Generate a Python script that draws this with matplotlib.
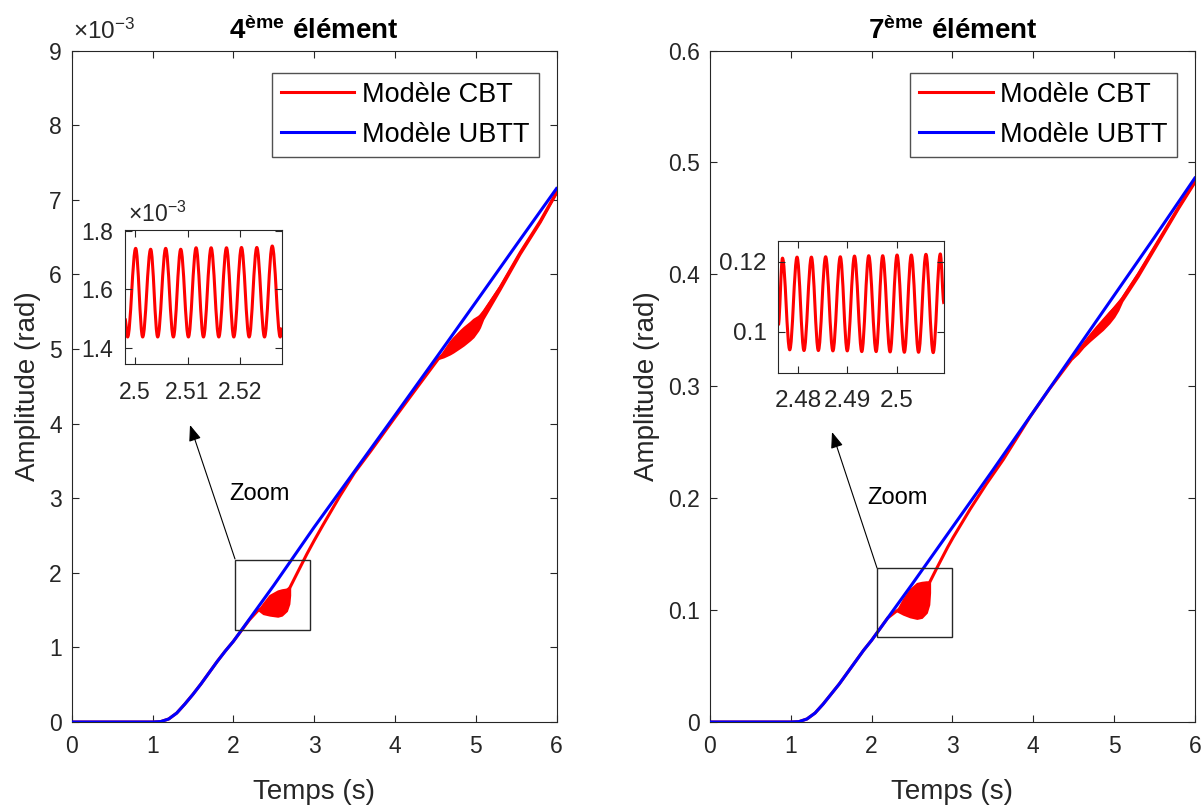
import matplotlib
matplotlib.use("Agg")
import matplotlib.pyplot as plt
from matplotlib.path import Path
from matplotlib.patches import PathPatch, Rectangle, FancyArrowPatch

plt.rcParams['font.family'] = ['Liberation Sans', 'DejaVu Sans']
plt.rcParams['mathtext.fontset'] = 'custom'
plt.rcParams['mathtext.rm'] = 'Liberation Sans'
plt.rcParams['mathtext.bf'] = 'Liberation Sans:bold'
plt.rcParams['mathtext.it'] = 'Liberation Sans:italic'

# ---------------- data ----------------
# time axis of the UBTT model (s)
t_ubtt = [0, 1.0, 1.1, 1.2, 1.3, 1.4, 1.5, 1.6, 1.7, 1.8, 1.9, 2.0,
          2.5, 3.0, 3.5, 4.0, 4.5, 5.0, 5.5, 6.0]
# 4th element, UBTT (x1e-3 rad)
ubtt4 = [0, 0, 0.005, 0.04, 0.12, 0.24, 0.37, 0.51, 0.66, 0.81, 0.95, 1.08,
         1.83, 2.61, 3.36, 4.11, 4.865, 5.625, 6.39, 7.15]
# 7th element, UBTT (rad)
ubtt7 = [0, 0, 0.0003, 0.0027, 0.008, 0.016, 0.025, 0.034, 0.044, 0.054, 0.064, 0.073,
         0.123, 0.174, 0.225, 0.277, 0.329, 0.381, 0.433, 0.486]

# 4th element, CBT mean path (x1e-3 rad)
t_cbt4 = [0, 1.0, 1.1, 1.2, 1.3, 1.4, 1.5, 1.6, 1.7, 1.8, 1.9, 2.0, 2.2, 2.31, 2.5,
          2.70, 2.765, 2.91, 3.0, 3.11, 3.32, 3.5, 3.7, 4.0, 4.3, 4.54, 4.8, 5.09,
          5.3, 5.55, 5.8, 6.0]
cbt4 = [0, 0, 0.005, 0.04, 0.12, 0.24, 0.37, 0.51, 0.66, 0.81, 0.95, 1.08, 1.37, 1.50, 1.58,
        1.80, 1.94, 2.25, 2.43, 2.64, 3.03, 3.34, 3.63, 4.08, 4.52, 4.87, 5.13, 5.47,
        5.82, 6.29, 6.715, 7.10]
# 4th element, CBT oscillation envelopes (x1e-3 rad)
band4a_t = [2.31, 2.37, 2.45, 2.55, 2.60, 2.66, 2.69, 2.70]
band4a_hi = [1.50, 1.59, 1.70, 1.76, 1.775, 1.785, 1.79, 1.80]
band4a_lo = [1.50, 1.45, 1.43, 1.415, 1.43, 1.49, 1.585, 1.70]
band4b_t = [4.54, 4.60, 4.68, 4.72, 4.81, 4.85, 4.93, 4.97, 5.03, 5.05, 5.09, 5.3, 5.55, 5.8, 6.0]
band4b_hi = [4.87, 4.97, 5.10, 5.15, 5.25, 5.29, 5.36, 5.40, 5.44, 5.46, 5.515, 5.85, 6.31, 6.73, 7.11]
band4b_lo = [4.87, 4.89, 4.93, 4.955, 5.02, 5.05, 5.12, 5.16, 5.25, 5.29, 5.40, 5.79, 6.27, 6.70, 7.09]

# 7th element, CBT mean path (rad)
t_cbt7 = [0, 1.0, 1.1, 1.2, 1.3, 1.4, 1.5, 1.6, 1.7, 1.8, 1.9, 2.0, 2.2, 2.31, 2.5,
          2.72, 2.80, 2.85, 2.94, 3.01, 3.22, 3.42, 3.63, 3.96, 4.2, 4.48, 4.8, 5.10,
          5.3, 5.55, 5.8, 6.0]
cbt7 = [0, 0, 0.0003, 0.0027, 0.008, 0.016, 0.025, 0.034, 0.044, 0.054, 0.064, 0.073, 0.093,
        0.0992, 0.108, 0.1250, 0.1365, 0.1435, 0.1560, 0.1650, 0.1902, 0.2126, 0.2345, 0.2725,
        0.2975, 0.3245, 0.352, 0.378, 0.400, 0.430, 0.460, 0.483]
band7a_t = [2.31, 2.39, 2.475, 2.56, 2.62, 2.68, 2.71, 2.72]
band7a_hi = [0.0992, 0.1097, 0.1186, 0.1240, 0.1250, 0.1255, 0.1252, 0.1250]
band7a_lo = [0.0992, 0.0962, 0.0938, 0.0924, 0.0933, 0.0978, 0.105, 0.1157]
band7b_t = [4.48, 4.55, 4.62, 4.70, 4.78, 4.86, 4.94, 5.00, 5.05, 5.10, 5.3, 5.55, 5.8, 6.0]
band7b_hi = [0.3245, 0.332, 0.339, 0.3465, 0.3535, 0.3600, 0.3665, 0.371, 0.375, 0.380, 0.402, 0.4315, 0.461, 0.484]
band7b_lo = [0.3245, 0.329, 0.335, 0.3405, 0.3455, 0.3505, 0.3565, 0.3620, 0.3680, 0.3760, 0.398, 0.4285, 0.459, 0.482]

# zoom insets: successive extrema of the CBT oscillation
ins4_t = [2.4981, 2.4986, 2.50013, 2.50146, 2.50298, 2.50432, 2.50584, 2.50730, 2.50870,
          2.51016, 2.51162, 2.51302, 2.51448, 2.51594, 2.51740, 2.51879, 2.52025, 2.52171,
          2.52317, 2.52463, 2.52610, 2.52762, 2.5279]
ins4_v = [1.500, 1.438, 1.740, 1.438, 1.737, 1.438, 1.740, 1.438, 1.737, 1.438, 1.742, 1.438,
          1.742, 1.438, 1.742, 1.438, 1.743, 1.438, 1.743, 1.438, 1.748, 1.438, 1.47]
ins7_t = [2.4760, 2.47685, 2.47832, 2.47980, 2.48121, 2.48271, 2.48412, 2.48560, 2.48707,
          2.48857, 2.48998, 2.49145, 2.49293, 2.49434, 2.49584, 2.49717, 2.49867, 2.50008,
          2.50156, 2.50297, 2.50444, 2.50594, 2.50741, 2.50885, 2.5096]
ins7_v = [0.1019, 0.1210, 0.0948, 0.1213, 0.0946, 0.1213, 0.0946, 0.1214, 0.0945, 0.1214,
          0.0945, 0.1216, 0.0943, 0.1217, 0.0943, 0.1217, 0.0942, 0.1219, 0.0941, 0.1219,
          0.0941, 0.1221, 0.0940, 0.1222, 0.1080]

x_ticks = [0, 1, 2, 3, 4, 5, 6]
y4_ticks = [0, 1, 2, 3, 4, 5, 6, 7, 8, 9]
y7_ticks = [0, 0.1, 0.2, 0.3, 0.4, 0.5, 0.6]
y7_labels = ['0', '0.1', '0.2', '0.3', '0.4', '0.5', '0.6']
ins4_xticks = [2.5, 2.51, 2.52]
ins4_xlabels = ['2.5', '2.51', '2.52']
ins4_yticks = [1.4, 1.6, 1.8]
ins4_ylabels = ['1.4', '1.6', '1.8']
ins7_xticks = [2.48, 2.49, 2.5]
ins7_xlabels = ['2.48', '2.49', '2.5']
ins7_yticks = [0.1, 0.12]
ins7_ylabels = ['0.1', '0.12']

labels = ['Modèle CBT', 'Modèle UBTT']

# ---------------- styling ----------------
W, H = 1204, 806
DARK = (0.15, 0.15, 0.15)
RED = '#ff0000'
BLUE = '#0000ff'
TICK_FS = 16.5
LAB_FS = 20
LW = 2.2

fig = plt.figure(figsize=(W / 100, H / 100), dpi=100)


def fx(px):
    return px / W


def fy(py):
    return 1 - py / H


def style_axes(ax, fs=TICK_FS, xpad=9.5, ypad=7):
    for s in ax.spines.values():
        s.set_color(DARK)
        s.set_linewidth(0.8)
    ax.tick_params(direction='in', length=5, width=0.8, colors=DARK,
                   labelsize=fs, top=True, right=True)
    ax.tick_params(axis='x', pad=xpad)
    ax.tick_params(axis='y', pad=ypad)


def smooth_extrema(ax, ts, vs, color, lw, k=0.36):
    verts = [(ts[0], vs[0])]
    codes = [Path.MOVETO]
    for i in range(len(ts) - 1):
        dt = ts[i + 1] - ts[i]
        verts += [(ts[i] + k * dt, vs[i]), (ts[i + 1] - k * dt, vs[i + 1]), (ts[i + 1], vs[i + 1])]
        codes += [Path.CURVE4] * 3
    ax.add_patch(PathPatch(Path(verts, codes), fill=False, ec=color, lw=lw,
                           transform=ax.transData, capstyle='butt', joinstyle='round'))


main_b, main_w, main_h = 722, 484.8, 671.5
panels = [
    dict(x0=71.7, ub=ubtt4, tc=t_cbt4, cb=cbt4,
         bands=[(band4a_t, band4a_lo, band4a_hi), (band4b_t, band4b_lo, band4b_hi)],
         ylim=(0, 9), yt=y4_ticks, yl=[str(v) for v in y4_ticks],
         title=r"4$^{\mathbf{ème}}$ élément",
         box=(2.021, 1.236, 0.928, 0.938),
         inset=(125, 230, 281.7, 364.3), it=ins4_t, iv=ins4_v,
         ixlim=(2.4981, 2.5279), iylim=(1.345, 1.8025), ifs=TICK_FS,
         ixt=ins4_xticks, ixl=ins4_xlabels, iyt=ins4_yticks, iyl=ins4_ylabels,
         exp=True, arrow=((235, 559), (190, 425)), ztext=(259, 494)),
    dict(x0=710, ub=ubtt7, tc=t_cbt7, cb=cbt7,
         bands=[(band7a_t, band7a_lo, band7a_hi), (band7b_t, band7b_lo, band7b_hi)],
         ylim=(0, 0.6), yt=y7_ticks, yl=y7_labels,
         title=r"7$^{\mathbf{ème}}$ élément",
         box=(2.063, 0.0759, 0.928, 0.0621),
         inset=(778.3, 241, 944, 373.3), it=ins7_t, iv=ins7_v,
         ixlim=(2.4760, 2.5096), iylim=(0.0881, 0.1259), ifs=17.5,
         ixt=ins7_xticks, ixl=ins7_xlabels, iyt=ins7_yticks, iyl=ins7_ylabels,
         exp=False, arrow=((877, 568), (832, 432)), ztext=(897, 498)),
]

for p in panels:
    ax = fig.add_axes([fx(p['x0']), fy(main_b), main_w / W, main_h / H])
    ax.plot(p['tc'], p['cb'], color=RED, lw=LW, zorder=2, label=labels[0],
            solid_joinstyle='round')
    for bt, blo, bhi in p['bands']:
        ax.fill_between(bt, blo, bhi, color=RED, lw=1.2, ec=RED, zorder=2)
    ax.plot(t_ubtt, p['ub'], color=BLUE, lw=LW, zorder=3, label=labels[1],
            solid_joinstyle='round')
    ax.set_xlim(0, 6)
    ax.set_ylim(*p['ylim'])
    ax.set_xticks(x_ticks)
    ax.set_xticklabels([str(v) for v in x_ticks])
    ax.set_yticks(p['yt'])
    ax.set_yticklabels(p['yl'])
    style_axes(ax)
    ax.set_xlabel('Temps (s)', fontsize=LAB_FS, color=DARK, labelpad=15)
    ax.set_ylabel('Amplitude (rad)', fontsize=LAB_FS, color=DARK, labelpad=6)
    ax.set_title(p['title'], fontsize=20, fontweight='bold', color='black', pad=8)
    if p['exp']:
        ax.text(0.002, 1.0 + 12 / main_h, '×10$^{-3}$', transform=ax.transAxes,
                fontsize=17.5, color=DARK, ha='left', va='baseline')
    bx, by, bw, bh = p['box']
    ax.add_patch(Rectangle((bx, by), bw, bh, fill=False, ec=DARK, lw=1.0, zorder=4))
    leg = ax.legend(loc='upper right', fontsize=19.5, frameon=True, fancybox=False,
                    borderpad=0.35, handlelength=2.7, handletextpad=0.27,
                    labelspacing=0.5, borderaxespad=0,
                    bbox_to_anchor=(1 - 18 / main_w, 1 - 22 / main_h))
    leg.get_frame().set_edgecolor(DARK)
    leg.get_frame().set_linewidth(1.0)
    for txt in leg.get_texts():
        txt.set_color('black')

    # inset
    l, t, r, b = p['inset']
    ia = fig.add_axes([fx(l), fy(b), (r - l) / W, (b - t) / H])
    smooth_extrema(ia, p['it'], p['iv'], RED, LW)
    ia.set_xlim(*p['ixlim'])
    ia.set_ylim(*p['iylim'])
    ia.set_xticks(p['ixt'])
    ia.set_xticklabels(p['ixl'])
    ia.set_yticks(p['iyt'])
    ia.set_yticklabels(p['iyl'])
    style_axes(ia, fs=p['ifs'], xpad=12, ypad=8.5)
    if p['exp']:
        ia.text(0.02, 1.0 + 8 / (b - t), '×10$^{-3}$', transform=ia.transAxes,
                fontsize=TICK_FS, color=DARK, ha='left', va='baseline')

    (ax0, ay0), (ax1, ay1) = p['arrow']
    fig.add_artist(FancyArrowPatch((fx(ax0), fy(ay0)), (fx(ax1), fy(ay1)),
                                   transform=fig.transFigure,
                                   arrowstyle='-|>,head_length=0.65,head_width=0.25',
                                   mutation_scale=15, color='black', lw=0.8,
                                   shrinkA=0, shrinkB=0))
    zx, zy = p['ztext']
    fig.text(fx(zx), fy(zy), 'Zoom', fontsize=17, color='black', ha='center', va='center')

fig.savefig('out.png', dpi=100)
